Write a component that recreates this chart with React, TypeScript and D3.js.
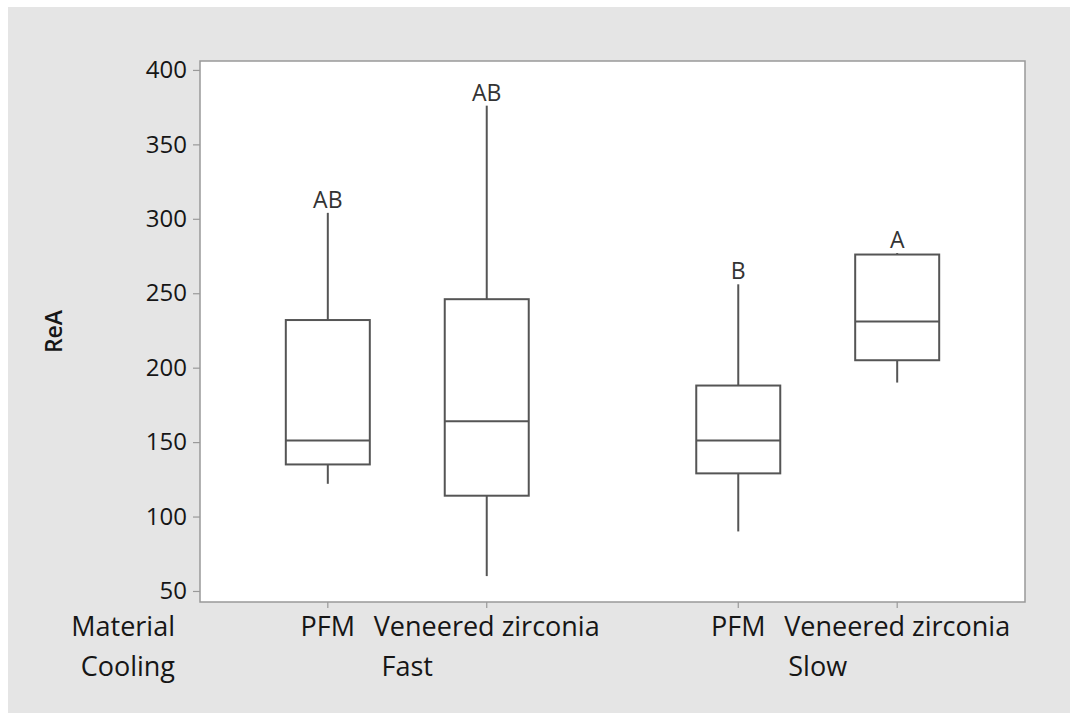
import React, { useEffect, useRef } from 'react';
import * as d3 from 'd3';

// groups / categories
const coolings = ['Fast', 'Slow'];
const materials = ['PFM', 'Veneered zirconia'];

// box stats, order: Fast-PFM, Fast-VZ, Slow-PFM, Slow-VZ
const groupOf = ['Fast', 'Fast', 'Slow', 'Slow'];
const materialOf = ['PFM', 'Veneered zirconia', 'PFM', 'Veneered zirconia'];
const whiskerLow = [122, 60, 90, 190];
const q1 = [135, 114, 129, 205];
const median = [151, 164, 151, 231];
const q3 = [232, 246, 188, 276];
const whiskerHigh = [304, 376, 256, 277];
const letters = ['AB', 'AB', 'B', 'A'];

const yTicks = [50, 100, 150, 200, 250, 300, 350, 400];

const W = 1074;
const H = 713;
const margin = { top: 61, right: 49, bottom: 111, left: 200 };
const FONT = '"Open Sans", "Noto Sans", sans-serif';
const INK = '#161616';

export default function App() {
  const ref = useRef<SVGSVGElement>(null);

  useEffect(() => {
    const svg = d3.select(ref.current);
    svg.selectAll('*').remove();

    const innerW = W - margin.left - margin.right;
    const innerH = H - margin.top - margin.bottom;

    svg.append('rect')
      .attr('x', 8).attr('y', 7)
      .attr('width', W - 12).attr('height', H - 7)
      .attr('fill', '#e5e5e5');

    const g = svg.append('g')
      .attr('transform', `translate(${margin.left},${margin.top})`);

    g.append('rect')
      .attr('width', innerW).attr('height', innerH)
      .attr('fill', '#fff');

    const y = d3.scaleLinear().domain([42.6, 406]).range([innerH, 0]);

    const outer = d3.scaleBand().domain(coolings).range([0, innerW])
      .paddingInner(0.2).paddingOuter(0.105);
    const inner = d3.scalePoint().domain(materials).range([0, outer.bandwidth()])
      .padding(0.533);
    const xOf = (i: number) => (outer(groupOf[i]) as number) + (inner(materialOf[i]) as number);
    const boxW = 84;

    // y axis
    const yAxis = g.append('g').call(d3.axisLeft(y).tickValues(yTicks).tickSize(7).tickPadding(6));
    yAxis.select('.domain').remove();
    yAxis.selectAll('line').attr('stroke', '#999').attr('stroke-width', 1.2);
    yAxis.selectAll('text')
      .attr('font-family', FONT).attr('font-size', 24).attr('fill', INK);

    // x ticks
    const idx = d3.range(groupOf.length);
    g.selectAll('.xtick').data(idx).enter().append('line')
      .attr('x1', xOf).attr('x2', xOf)
      .attr('y1', innerH).attr('y2', innerH + 6)
      .attr('stroke', '#999').attr('stroke-width', 1.2);

    g.selectAll('.xlab').data(idx).enter().append('text')
      .attr('x', xOf).attr('y', innerH + 34)
      .attr('text-anchor', 'middle')
      .attr('font-family', FONT).attr('font-size', 27).attr('fill', INK)
      .text(i => materialOf[i]);

    g.selectAll('.glab').data(coolings).enter().append('text')
      .attr('x', c => (outer(c) as number) + outer.bandwidth() / 2)
      .attr('y', innerH + 74)
      .attr('text-anchor', 'middle')
      .attr('font-family', FONT).attr('font-size', 27).attr('fill', INK)
      .text(c => c);

    svg.append('text')
      .attr('x', 175).attr('y', margin.top + innerH + 34)
      .attr('text-anchor', 'end')
      .attr('font-family', FONT).attr('font-size', 27).attr('fill', INK)
      .text('Material');
    svg.append('text')
      .attr('x', 175).attr('y', margin.top + innerH + 74)
      .attr('text-anchor', 'end')
      .attr('font-family', FONT).attr('font-size', 27).attr('fill', INK)
      .text('Cooling');

    svg.append('text')
      .attr('transform', `translate(62,${margin.top + innerH / 2}) rotate(-90)`)
      .attr('text-anchor', 'middle')
      .attr('font-family', FONT).attr('font-size', 23).attr('font-weight', 600)
      .attr('fill', INK)
      .text('ReA');

    // boxes
    const stroke = '#555';
    const box = g.selectAll('.box').data(idx).enter().append('g');
    box.append('line')
      .attr('x1', xOf).attr('x2', xOf)
      .attr('y1', i => y(q3[i])).attr('y2', i => y(whiskerHigh[i]))
      .attr('stroke', stroke).attr('stroke-width', 2);
    box.append('line')
      .attr('x1', xOf).attr('x2', xOf)
      .attr('y1', i => y(q1[i])).attr('y2', i => y(whiskerLow[i]))
      .attr('stroke', stroke).attr('stroke-width', 2);
    box.append('rect')
      .attr('x', i => xOf(i) - boxW / 2)
      .attr('y', i => y(q3[i]))
      .attr('width', boxW)
      .attr('height', i => y(q1[i]) - y(q3[i]))
      .attr('fill', 'none').attr('stroke', stroke).attr('stroke-width', 2);
    box.append('line')
      .attr('x1', i => xOf(i) - boxW / 2).attr('x2', i => xOf(i) + boxW / 2)
      .attr('y1', i => y(median[i])).attr('y2', i => y(median[i]))
      .attr('stroke', stroke).attr('stroke-width', 2);
    box.append('text')
      .attr('x', xOf).attr('y', i => y(whiskerHigh[i]) - 5)
      .attr('text-anchor', 'middle')
      .attr('font-family', FONT).attr('font-size', 23).attr('fill', '#333')
      .text(i => letters[i]);

    // frame
    g.append('rect')
      .attr('width', innerW).attr('height', innerH)
      .attr('fill', 'none').attr('stroke', '#999').attr('stroke-width', 1.5);
  }, []);

  return (
    <svg ref={ref} width={W} height={H}
      style={{ position: 'absolute', left: 0, top: 0, display: 'block' }} />
  );
}
